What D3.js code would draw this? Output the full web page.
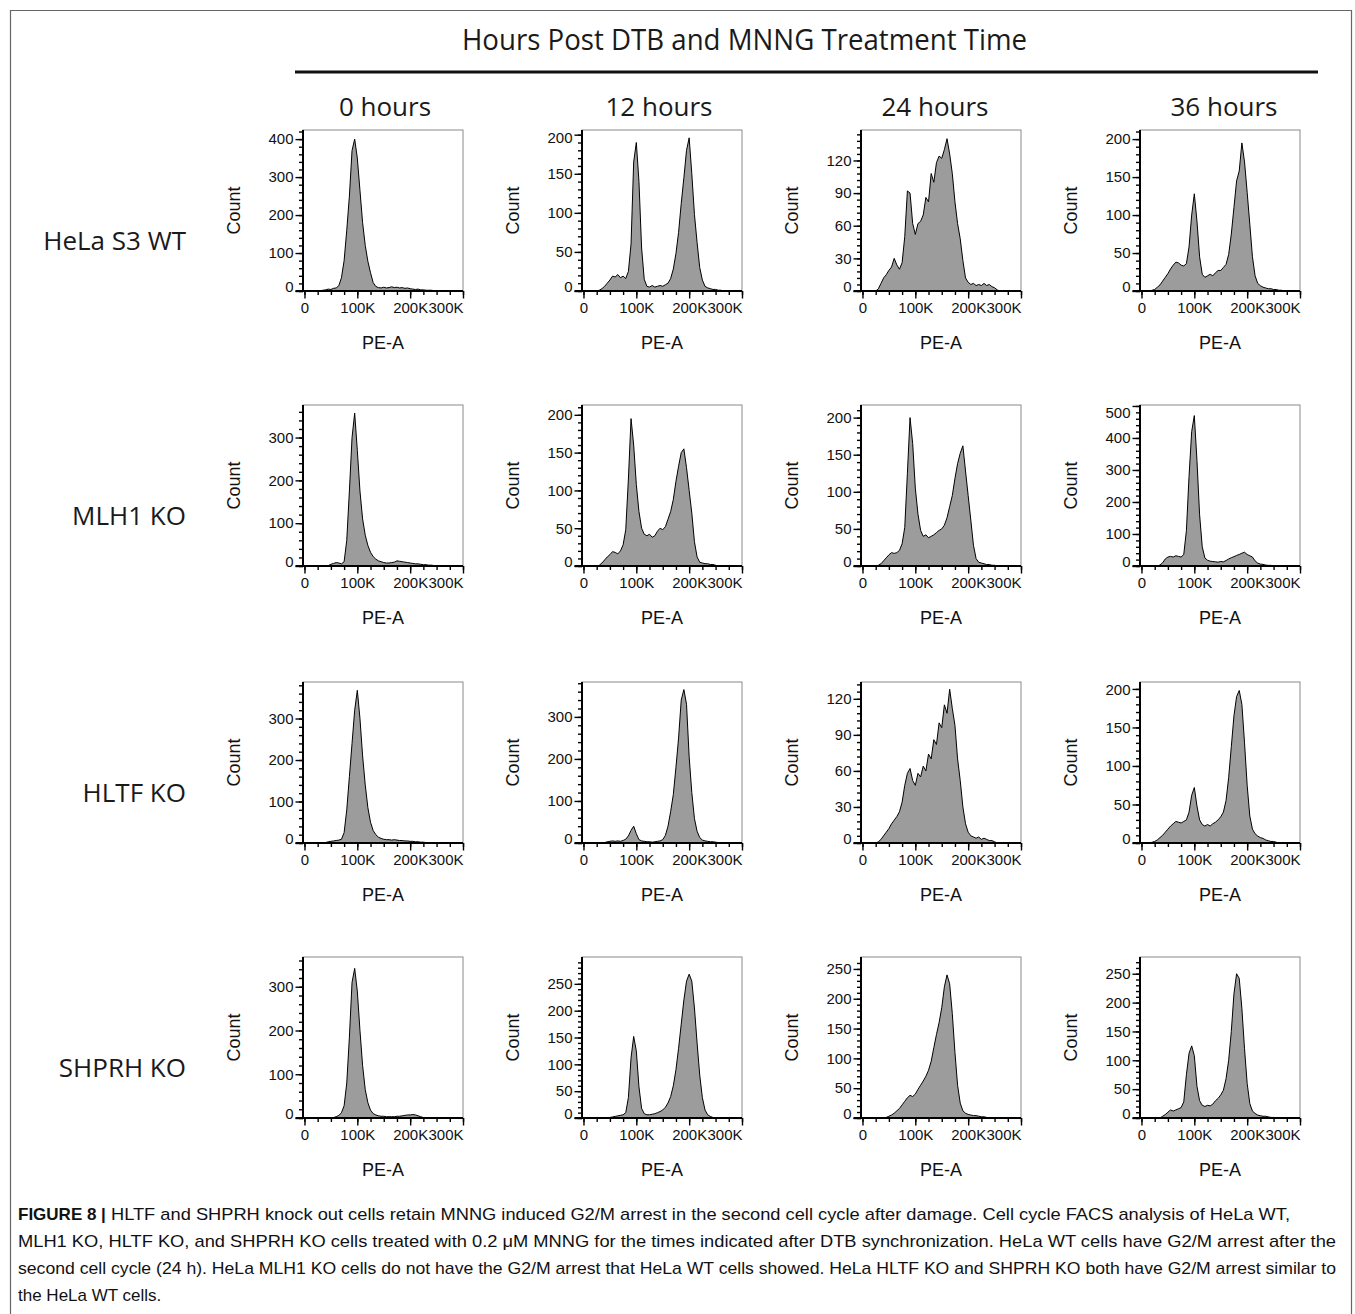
<!DOCTYPE html>
<html lang="en">
<head>
<meta charset="utf-8">
<title>Figure 8 - cell cycle FACS</title>
<script src="https://d3js.org/d3.v7.min.js"></script>
<style>
  body { margin: 0; background: #fff; }
  .head { font-family: "Open Sans", "Noto Sans", sans-serif; fill: #1a1a1a; }
  .lab { font-family: "Liberation Sans", Arial, sans-serif; fill: #111; }
</style>
</head>
<body>
<script>
// PE-A bin centres (thousands)
var peA = [0,5,10,15,20,25,30,35,40,45,
           50,55,60,65,70,75,80,85,90,95,
           100,105,110,115,120,125,130,135,140,145,
           150,155,160,165,170,175,180,185,190,195,
           200,205,210,215,220,225,230,235,240,245,
           250,255,260,265,270,275,280,285,290,295,300];

var cellLines = ["HeLa S3 WT", "MLH1 KO", "HLTF KO", "SHPRH KO"];
var timePoints = ["0 hours", "12 hours", "24 hours", "36 hours"];
var xTicks = [0, 100, 200, 300];

// counts per PE-A bin
var hela0 = [0,0,0,0,0,0,1,2,3,5,
  4,7,8,14,35,80,160,250,370,400,
  350,265,180,120,78,48,22,12,9,8,
  10,8,9,11,9,10,8,9,7,8,
  6,5,4,5,3,3,2,2,2,1,
  1,0,0,0,0,0,0,0,0,0,0];
var hela12 = [0,0,0,0,0,0,1,3,6,10,
  14,19,18,21,17,19,16,25,60,165,
  190,140,55,15,6,5,7,5,6,7,
  6,8,10,16,28,48,75,112,145,180,
  196,150,98,62,30,14,6,4,3,2,
  2,1,1,0,0,0,0,0,0,0,0];
var hela24 = [0,0,0,0,0,0,2,7,12,15,
  19,22,30,24,20,26,50,92,90,62,
  52,62,64,70,86,82,108,100,118,124,
  122,130,140,126,108,82,62,48,28,12,
  8,6,7,5,6,5,7,5,6,4,
  3,1,0,0,0,0,0,0,0,0,0];
var hela36 = [0,0,0,0,1,2,5,8,13,18,
  23,29,34,38,37,34,33,36,58,100,
  128,92,45,22,18,20,22,20,24,27,
  27,31,35,48,75,110,145,158,195,170,
  130,88,45,20,10,7,5,4,3,3,
  2,2,1,1,0,0,0,0,0,0,0];

var mlh0 = [0,0,0,0,0,0,0,0,0,1,
  4,6,8,7,5,10,60,175,300,357,
  270,175,110,72,48,32,22,16,12,10,
  8,7,7,8,9,12,11,10,9,8,
  7,6,5,5,4,3,3,2,2,1,
  0,0,0,0,0,0,0,0,0,0,0];
var mlh12 = [0,0,0,0,0,0,1,4,8,12,
  15,19,18,16,20,28,48,115,195,160,
  108,72,50,42,40,42,38,40,46,50,
  48,52,62,72,88,112,132,150,155,130,
  100,70,32,12,5,4,3,3,2,2,
  1,0,0,0,0,0,0,0,0,0,0];
var mlh24 = [0,0,0,0,0,0,1,3,7,11,
  15,18,17,18,21,30,52,125,200,165,
  105,70,48,40,42,38,40,42,45,48,
  50,55,65,80,95,118,138,152,162,128,
  95,62,28,10,5,4,3,2,2,1,
  1,0,0,0,0,0,0,0,0,0,0];
var mlh36 = [0,0,0,0,0,0,0,3,10,22,
  28,30,28,32,30,28,36,110,280,420,
  470,330,160,60,25,18,15,14,13,12,
  14,13,17,22,26,29,33,36,40,43,
  36,32,28,16,9,6,5,3,2,2,
  1,0,0,0,0,0,0,0,0,0,0];

var hltf0 = [0,0,0,0,0,0,0,0,1,3,
  4,5,6,7,9,25,80,160,240,320,
  368,300,210,140,85,50,30,20,14,11,
  9,8,8,7,8,7,6,6,5,5,
  4,4,3,3,2,2,1,1,0,0,
  0,0,0,0,0,0,0,0,0,0,0];
var hltf12 = [0,0,0,0,0,0,0,0,1,3,
  4,5,4,5,4,6,9,17,30,40,
  22,8,5,4,3,3,2,3,4,5,
  8,18,40,75,115,180,250,340,365,330,
  205,120,58,28,13,7,5,4,3,3,
  2,1,0,0,0,0,0,0,0,0,0];
var hltf24 = [0,0,0,0,0,0,1,3,6,9,
  12,16,19,22,26,34,48,58,62,52,
  48,58,55,64,60,74,70,86,82,100,
  96,115,108,128,112,98,70,52,30,16,
  9,6,5,4,5,3,4,3,2,2,
  1,0,0,0,0,0,0,0,0,0,0];
var hltf36 = [0,0,0,0,1,2,4,7,10,14,
  18,22,25,28,27,26,28,30,40,62,
  72,48,30,24,22,24,22,25,27,30,
  34,40,55,85,125,165,190,198,180,130,
  75,35,18,12,9,7,6,4,3,2,
  2,1,0,0,0,0,0,0,0,0,0];

var shprh0 = [0,0,0,0,0,0,0,0,0,0,
  0,1,3,6,12,28,80,185,310,342,
  290,200,120,65,35,18,10,7,5,4,
  4,3,3,3,3,4,4,5,6,7,
  7,8,7,5,3,1,0,0,0,0,
  0,0,0,0,0,0,0,0,0,0,0];
var shprh12 = [0,0,0,0,0,0,0,0,0,0,
  1,2,3,4,5,6,10,38,112,152,
  125,58,18,8,6,6,7,8,10,12,
  15,20,28,40,60,90,130,175,220,255,
  268,255,205,140,80,38,15,6,3,1,
  0,0,0,0,0,0,0,0,0,0,0];
var shprh24 = [0,0,0,0,0,0,0,0,0,1,
  3,5,8,12,16,22,28,34,38,36,
  40,48,55,62,70,80,95,118,140,160,
  185,220,240,225,175,110,55,25,12,8,
  6,5,4,4,3,2,2,1,0,0,
  0,0,0,0,0,0,0,0,0,0,0];
var shprh36 = [0,0,0,0,0,0,0,0,3,6,
  10,14,12,14,16,18,28,75,112,125,
  108,55,30,22,20,22,21,24,30,34,
  40,48,68,100,150,215,250,242,190,120,
  60,25,12,8,5,4,3,3,2,1,
  1,0,0,0,0,0,0,0,0,0,0];

var counts = [[hela0, hela12, hela24, hela36],
              [mlh0, mlh12, mlh24, mlh36],
              [hltf0, hltf12, hltf24, hltf36],
              [shprh0, shprh12, shprh24, shprh36]];

// Count axis top and tick step for each panel
var yMax  = [[424, 206, 148, 212], [376, 213, 217, 503], [388, 383, 134, 209], [368, 300, 270, 279]];
var yStep = [[100, 50, 30, 50], [100, 50, 50, 100], [100, 100, 30, 50], [100, 50, 50, 50]];

var captionBold = "FIGURE 8 |";
var captionLines = [
  " HLTF and SHPRH knock out cells retain MNNG induced G2/M arrest in the second cell cycle after damage. Cell cycle FACS analysis of HeLa WT,",
  "MLH1 KO, HLTF KO, and SHPRH KO cells treated with 0.2 \u03bcM MNNG for the times indicated after DTB synchronization. HeLa WT cells have G2/M arrest after the",
  "second cell cycle (24 h). HeLa MLH1 KO cells do not have the G2/M arrest that HeLa WT cells showed. HeLa HLTF KO and SHPRH KO both have G2/M arrest similar to",
  "the HeLa WT cells."
];

//Layout
var w = 1355, h = 1314;
var colX = [303, 582, 861, 1140];
var rowY = [130, 405, 682, 957];
var pw = 160, ph = 161;
var headX = [385, 659, 935, 1224];

var svg = d3.select("body").append("svg")
  .attr("width", w).attr("height", h);

// outer frame (open at bottom)
svg.append("path")
  .attr("d", "M10.5," + h + "V10.5H1351.5V" + h)
  .attr("fill", "none").attr("stroke", "#666").attr("stroke-width", 1.2);

// heading
svg.append("text").attr("class", "head")
  .attr("x", 744.5).attr("y", 50)
  .attr("text-anchor", "middle").attr("font-size", 30)
  .attr("textLength", 565).attr("lengthAdjust", "spacingAndGlyphs")
  .text("Hours Post DTB and MNNG Treatment Time");
svg.append("line")
  .attr("x1", 295).attr("x2", 1318).attr("y1", 72).attr("y2", 72)
  .attr("stroke", "#111").attr("stroke-width", 3);

svg.selectAll("text.time").data(timePoints).enter().append("text")
  .attr("class", "head time")
  .attr("x", function(d, i) { return headX[i]; }).attr("y", 116)
  .attr("text-anchor", "middle").attr("font-size", 26)
  .text(function(d) { return d; });

svg.selectAll("text.line").data(cellLines).enter().append("text")
  .attr("class", "head line")
  .attr("x", 186).attr("y", function(d, i) { return rowY[i] + 120; })
  .attr("text-anchor", "end").attr("font-size", 26)
  .text(function(d) { return d; });

//Draw the histograms
counts.forEach(function(row, r) {
  row.forEach(function(vals, c) {
    var g = svg.append("g")
      .attr("transform", "translate(" + colX[c] + "," + rowY[r] + ")");

    var x = d3.scaleLinear().domain([-2.8, 300]).range([0, pw]);
    var y = d3.scaleLinear().domain([0, yMax[r][c]]).range([ph, 0]);
    var pts = peA.map(function(k, i) { return [k, vals[i]]; });

    g.append("rect").attr("x", 0).attr("y", 0).attr("width", pw).attr("height", ph)
      .attr("fill", "none").attr("stroke", "#8a8a8a").attr("stroke-width", 1);

    g.append("path").datum(pts)
      .attr("fill", "#9c9c9c")
      .attr("d", d3.area().x(function(d) { return x(d[0]); })
        .y0(ph).y1(function(d) { return y(d[1]); }));
    g.append("path").datum(pts)
      .attr("fill", "none").attr("stroke", "#000").attr("stroke-width", 1)
      .attr("d", d3.line().x(function(d) { return x(d[0]); })
        .y(function(d) { return y(d[1]); }));

    // minor ticks
    var st = yStep[r][c];
    var yMinor = g.append("g").call(d3.axisLeft(y)
      .tickValues(d3.range(0, yMax[r][c], st / 5)).tickSize(4).tickFormat(""));
    var xMinor = g.append("g").attr("transform", "translate(0," + ph + ")")
      .call(d3.axisBottom(x).tickValues(d3.range(0, 301, 25)).tickSize(4).tickFormat(""));

    // major ticks
    var yAx = g.append("g").call(d3.axisLeft(y)
      .tickValues(d3.range(0, yMax[r][c], st)).tickSize(7.5).tickPadding(2));
    var xAx = g.append("g").attr("transform", "translate(0," + ph + ")")
      .call(d3.axisBottom(x).tickValues(xTicks).tickSize(7.5).tickPadding(4)
        .tickFormat(function(d) { return d ? d + "K" : "0"; }));

    [yMinor, xMinor, yAx, xAx].forEach(function(a) {
      a.select(".domain").remove();
      a.selectAll("line").attr("stroke", "#000").attr("stroke-width", 1.4);
      a.attr("font-family", null).attr("font-size", null);
      a.selectAll("text").attr("class", "lab").attr("font-size", 15);
    });

    yAx.selectAll("text")
      .attr("y", function(d) {
        if (d === 0) return -4.3;
        var p = y(d);
        return p < 8 ? 8 - p : 0;
      });
    xAx.selectAll("text")
      .attr("text-anchor", function(d) { return d === 300 ? "end" : "middle"; });

    // axis lines
    g.append("line").attr("x1", 0).attr("x2", 0).attr("y1", 0).attr("y2", ph)
      .attr("stroke", "#000").attr("stroke-width", 2);
    g.append("line").attr("x1", -7.5).attr("x2", pw).attr("y1", ph).attr("y2", ph)
      .attr("stroke", "#000").attr("stroke-width", 2);

    g.append("text").attr("class", "lab")
      .attr("transform", "translate(-69," + (ph / 2) + ") rotate(-90)")
      .attr("dy", "0.36em").attr("text-anchor", "middle").attr("font-size", 18)
      .text("Count");
    g.append("text").attr("class", "lab")
      .attr("x", pw / 2).attr("y", ph + 57.5)
      .attr("text-anchor", "middle").attr("font-size", 18)
      .text("PE-A");
  });
});

// caption
var capY = [1220, 1247, 1274, 1301];
var capRight = [1290, 1336, 1336, null];
var bold = svg.append("text").attr("class", "lab")
  .attr("x", 18).attr("y", capY[0]).attr("font-size", 17).attr("font-weight", "bold")
  .text(captionBold);
var bw = bold.node().getComputedTextLength();
captionLines.forEach(function(t, i) {
  var x0 = i === 0 ? 18 + bw : 18;
  var tx = svg.append("text").attr("class", "lab")
    .attr("x", x0).attr("y", capY[i]).attr("font-size", 17)
    .style("white-space", "pre")
    .text(t);
  if (capRight[i]) {
    tx.attr("textLength", capRight[i] - x0).attr("lengthAdjust", "spacingAndGlyphs");
  }
});
</script>
</body>
</html>
